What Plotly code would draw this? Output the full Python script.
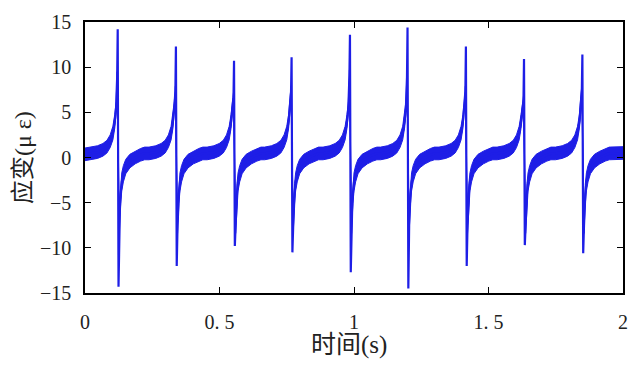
import plotly.graph_objects as go

# ---- data ----
spike_t = [0.1216, 0.338, 0.554, 0.768, 0.985, 1.199, 1.416, 1.632, 1.849]   # s
pos_peak = [14.2, 12.3, 10.7, 11.1, 13.6, 14.4, 12.3, 10.9, 11.4]           # μɛ
neg_peak = [-14.3, -12.0, -9.8, -10.5, -12.7, -14.5, -12.0, -9.7, -10.6]    # μɛ
shoulder = [8.9, 7.3, 6.6, 7.3, 9.1, 8.9, 7.3, 6.2, 7.5]                   # μɛ

# common shape of the slow part around each spike (offset from spike, value, noise half-width)
rise_dt = [-0.100, -0.075, -0.055, -0.040, -0.028, -0.018, -0.011, -0.006, -0.002]
rise_v = [0.45, 0.60, 0.85, 1.20, 1.80, 2.70, 4.00, 5.50, None]   # None -> shoulder value
rise_hw = [0.70, 0.70, 0.70, 0.70, 0.70, 0.75, 0.75, 0.70, 0.60]
fall_dt = [0.006, 0.008, 0.011, 0.015, 0.021, 0.030, 0.045, 0.065, 0.085, 0.100]
fall_v = [-7.5, -5.8, -4.0, -2.7, -1.8, -1.0, -0.4, 0.0, 0.3, 0.45]
fall_hw = [0.9, 1.1, 1.1, 1.0, 0.9, 0.8, 0.75, 0.7, 0.7, 0.7]

start_t, start_v, start_hw = 0.0, 0.35, 0.7
end_t, end_v, end_hw = 2.0, 0.5, 0.7

x_ticks = [0, 0.5, 1, 1.5, 2]
x_ticktext = ["0", "0. 5", "1", "1. 5", "2"]
y_ticks = [-15, -10, -5, 0, 5, 10, 15]

# ---- build traces ----
# slow (noisy) component: continuous curve without the spike peaks
slow_x, slow_y, slow_hw = [start_t], [start_v], [start_hw]
# full centre line including spikes
line_x, line_y = [start_t], [start_v]
for t, p, n, s in zip(spike_t, pos_peak, neg_peak, shoulder):
    rv = [s if v is None else v for v in rise_v]
    rx = [t + d for d in rise_dt]
    fx = [t + d for d in fall_dt]
    slow_x += rx + fx
    slow_y += rv + fall_v
    slow_hw += rise_hw + fall_hw
    line_x += rx + [t, t + 0.003] + fx
    line_y += rv + [p, n] + fall_v
slow_x.append(end_t); slow_y.append(end_v); slow_hw.append(end_hw)
line_x.append(end_t); line_y.append(end_v)

lower = [v - h for v, h in zip(slow_y, slow_hw)]
upper = [v + h for v, h in zip(slow_y, slow_hw)]

blue = "#1e1ee6"
fig = go.Figure()
fig.add_trace(go.Scatter(x=slow_x, y=lower, mode="lines",
                         line=dict(color=blue, width=1), hoverinfo="skip"))
fig.add_trace(go.Scatter(x=slow_x, y=upper, mode="lines", fill="tonexty",
                         fillcolor=blue, line=dict(color=blue, width=1),
                         hoverinfo="skip"))
fig.add_trace(go.Scatter(x=line_x, y=line_y, mode="lines",
                         line=dict(color=blue, width=2.2), hoverinfo="skip"))

tickfont = dict(family="Liberation Serif, Noto Sans CJK SC", size=20, color="#222")
axis_common = dict(showline=True, linecolor="black", linewidth=1.5, mirror="ticks",
                   ticks="inside", ticklen=6, tickwidth=1.2, tickcolor="black",
                   showgrid=False, zeroline=False, tickfont=tickfont, automargin=False)

label_font = dict(family="Liberation Serif, Noto Sans CJK SC", size=24, color="#222")

# the page body has an 8 px margin, so the figure is sized/margined to compensate
fig.update_layout(
    width=631, height=362,
    margin=dict(l=77, r=16, t=14, b=77),
    paper_bgcolor="white", plot_bgcolor="white",
    showlegend=False,
    xaxis=dict(range=[0, 2], tickvals=x_ticks, ticktext=x_ticktext,
               ticklabelstandoff=10, **axis_common),
    yaxis=dict(range=[-15, 15], tickvals=y_ticks,
               ticklabelstandoff=8, **axis_common),
    annotations=[
        dict(text="时间(s)", xref="paper", yref="paper", x=0.49, y=-0.192,
             xanchor="center", yanchor="middle", showarrow=False,
             font=dict(label_font, size=25)),
        dict(text="应变(μ ε)", xref="paper", yref="paper", x=-0.116, y=0.5,
             xanchor="center", yanchor="middle", showarrow=False, textangle=-90,
             font=label_font),
    ],
)

fig.write_html("out.html")
